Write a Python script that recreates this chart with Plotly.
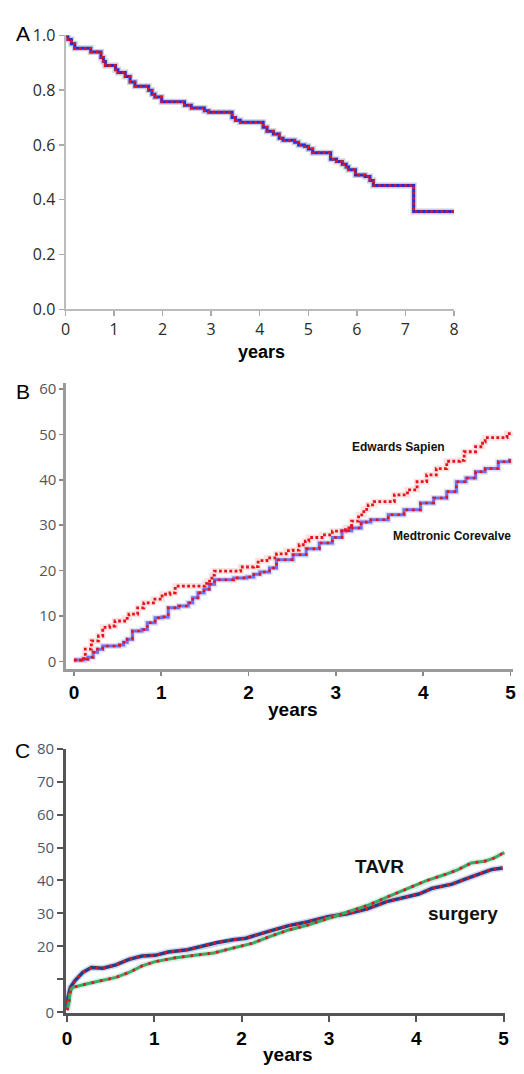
import plotly.graph_objects as go

W, H = 524, 1074

# ---------------- Panel A data (survival, step curve) ----------------
a_years = [0, 0.05, 0.12, 0.19, 0.52, 0.73, 0.78, 0.82, 1.03, 1.08, 1.23, 1.33, 1.43, 1.71, 1.78,
           1.84, 1.98, 2.45, 2.59, 2.86, 2.95, 3.43, 3.5, 3.6, 4.07, 4.15, 4.28, 4.40, 4.48, 4.72,
           4.8, 4.92, 5.0, 5.09, 5.46, 5.58, 5.70, 5.78, 5.83, 5.97, 6.17, 6.27, 6.34, 7.17, 8.0]
a_surv = [1.0, 0.985, 0.97, 0.953, 0.94, 0.92, 0.905, 0.89, 0.875, 0.865, 0.85, 0.83, 0.815, 0.80, 0.785,
          0.775, 0.758, 0.745, 0.735, 0.725, 0.72, 0.70, 0.69, 0.683, 0.665, 0.65, 0.64, 0.625, 0.617, 0.61,
          0.60, 0.595, 0.585, 0.572, 0.548, 0.54, 0.53, 0.52, 0.51, 0.49, 0.485, 0.47, 0.452, 0.357, 0.357]
a_xticks = [0, 1, 2, 3, 4, 5, 6, 7, 8]
a_yticks = [0.0, 0.2, 0.4, 0.6, 0.8, 1.0]
a_yticktext = ["0.0", "0.2", "0.4", "0.6", "0.8", "1.0"]

# ---------------- Panel B data (cumulative incidence, step) ----------------
b_edw_t = [0.0, 0.11, 0.13, 0.20, 0.28, 0.33, 0.41, 0.47, 0.58, 0.63, 0.73, 0.80, 0.91, 1.01, 1.10, 1.16,
           1.50, 1.53, 1.58, 1.61, 1.91, 2.06, 2.11, 2.21, 2.32, 2.43, 2.51, 2.58, 2.65, 2.69, 2.84, 2.96,
           3.11, 3.18, 3.26, 3.32, 3.37, 3.44, 3.67, 3.82, 3.93, 4.04, 4.15, 4.27, 4.42, 4.47, 4.60, 4.68,
           4.71, 4.96, 5.02]
b_edw_v = [0.3, 0.6, 2.7, 4.5, 5.6, 7.5, 7.8, 8.9, 9.5, 10.4, 11.8, 12.9, 13.7, 14.8, 15.1, 16.6,
           17.2, 17.7, 19.0, 19.9, 20.8, 20.9, 22.2, 22.8, 23.7, 24.4, 24.5, 25.7, 26.5, 27.3, 27.9, 28.7,
           29.4, 30.9, 32.3, 33.5, 34.5, 35.2, 36.7, 37.8, 39.6, 41.1, 42.5, 44.1, 44.3, 46.2, 47.3, 48.4,
           49.3, 50.2, 50.4]
b_med_t = [0.0, 0.11, 0.16, 0.22, 0.27, 0.33, 0.52, 0.57, 0.61, 0.67, 0.78, 0.84, 0.93, 1.01, 1.08, 1.20,
           1.31, 1.36, 1.42, 1.49, 1.55, 1.61, 1.83, 1.98, 2.06, 2.13, 2.24, 2.32, 2.43, 2.51, 2.66, 2.81,
           2.96, 3.07, 3.18, 3.29, 3.40, 3.60, 3.78, 3.97, 4.12, 4.27, 4.38, 4.49, 4.60, 4.71, 4.86, 4.99]
b_med_v = [0.3, 0.5, 0.9, 2.0, 2.7, 3.4, 3.6, 4.2, 4.9, 6.7, 7.0, 8.5, 9.6, 9.8, 11.8, 12.2,
           12.9, 14.0, 15.1, 15.9, 17.0, 18.0, 18.4, 18.6, 19.2, 19.7, 20.6, 22.4, 22.4, 23.5, 24.8, 26.1,
           27.3, 28.8, 29.4, 30.7, 31.2, 32.3, 33.4, 34.9, 36.0, 37.4, 39.6, 40.4, 41.8, 42.5, 44.0, 44.7]
b_xticks = [0, 1, 2, 3, 4, 5]
b_yticks = [0, 10, 20, 30, 40, 50, 60]

# ---------------- Panel C data (cumulative incidence) ----------------
c_sur_t = [0, 0.005, 0.01, 0.04, 0.09, 0.18, 0.28, 0.41, 0.56, 0.71, 0.86, 1.01, 1.16, 1.38, 1.53, 1.72,
           1.90, 2.05, 2.30, 2.54, 2.76, 2.99, 3.21, 3.44, 3.66, 3.89, 4.03, 4.18, 4.41, 4.56, 4.71, 4.86, 4.99]
c_sur_v = [0.7, 2.5, 4.6, 7.6, 9.6, 12.1, 13.6, 13.4, 14.4, 16.1, 17.1, 17.3, 18.3, 19.0, 20.0, 21.2,
           22.0, 22.5, 24.5, 26.3, 27.5, 29.0, 29.9, 31.4, 33.6, 34.9, 35.9, 37.6, 38.9, 40.4, 41.8, 43.3, 43.8]
c_tav_t = [0, 0.02, 0.04, 0.07, 0.22, 0.41, 0.56, 0.71, 0.86, 1.01, 1.23, 1.46, 1.68, 1.90, 2.13, 2.32,
           2.54, 2.76, 2.99, 3.21, 3.44, 3.66, 3.89, 4.11, 4.33, 4.48, 4.63, 4.78, 4.89, 5.01]
c_tav_v = [0.7, 2.7, 6.6, 7.6, 8.6, 9.6, 10.6, 12.1, 14.1, 15.4, 16.5, 17.3, 18.0, 19.5, 21.0, 23.0,
           25.0, 26.5, 28.5, 30.4, 32.4, 34.9, 37.4, 39.9, 41.8, 43.3, 45.3, 45.8, 46.8, 48.5]
c_xticks = [0, 1, 2, 3, 4, 5]
c_yticks = [0, 10, 20, 30, 40, 50, 60, 70, 80]
c_yticktext = ["0", "", "20", "30", "40", "50", "60", "70", "80"]


def px_x(p):
    return p / W


def px_y(p):
    return 1 - p / H


fig = go.Figure()

RED = "#e8121b"

# Panel A
fig.add_trace(go.Scatter(x=a_years, y=a_surv, mode="lines", line=dict(color="rgba(160,165,190,0.55)", width=6, shape="hv"),
                         xaxis="x", yaxis="y", hoverinfo="skip"))
fig.add_trace(go.Scatter(x=a_years, y=a_surv, mode="lines", line=dict(color="#1f2fe0", width=3, shape="hv"),
                         xaxis="x", yaxis="y", hoverinfo="skip"))
fig.add_trace(go.Scatter(x=a_years, y=a_surv, mode="lines", line=dict(color=RED, width=2.6, shape="hv", dash="2.6px,2.6px"),
                         xaxis="x", yaxis="y", hoverinfo="skip"))

# Panel B
fig.add_trace(go.Scatter(x=b_med_t, y=b_med_v, mode="lines", line=dict(color="rgba(190,195,230,0.5)", width=6, shape="hv"),
                         xaxis="x2", yaxis="y2", hoverinfo="skip"))
fig.add_trace(go.Scatter(x=b_edw_t, y=b_edw_v, mode="lines", line=dict(color="rgba(240,190,190,0.45)", width=6, shape="hv"),
                         xaxis="x2", yaxis="y2", hoverinfo="skip"))
fig.add_trace(go.Scatter(x=b_med_t, y=b_med_v, mode="lines", line=dict(color="#6f6ff2", width=3, shape="hv"),
                         xaxis="x2", yaxis="y2", hoverinfo="skip"))
fig.add_trace(go.Scatter(x=b_med_t, y=b_med_v, mode="lines", line=dict(color=RED, width=2.6, shape="hv", dash="2.6px,4px"),
                         xaxis="x2", yaxis="y2", hoverinfo="skip"))
fig.add_trace(go.Scatter(x=b_edw_t, y=b_edw_v, mode="lines", line=dict(color=RED, width=2.8, shape="hv", dash="2.8px,2.4px"),
                         xaxis="x2", yaxis="y2", hoverinfo="skip"))

# Panel C
fig.add_trace(go.Scatter(x=c_sur_t, y=c_sur_v, mode="lines", line=dict(color="rgba(170,180,215,0.55)", width=6.5),
                         xaxis="x3", yaxis="y3", hoverinfo="skip"))
fig.add_trace(go.Scatter(x=c_tav_t, y=c_tav_v, mode="lines", line=dict(color="rgba(180,220,195,0.5)", width=6),
                         xaxis="x3", yaxis="y3", hoverinfo="skip"))
fig.add_trace(go.Scatter(x=c_sur_t, y=c_sur_v, mode="lines", line=dict(color="#1e3f8a", width=3.5),
                         xaxis="x3", yaxis="y3", hoverinfo="skip"))
fig.add_trace(go.Scatter(x=c_sur_t, y=c_sur_v, mode="lines", line=dict(color=RED, width=2.8, dash="2.6px,4.5px"),
                         xaxis="x3", yaxis="y3", hoverinfo="skip"))
fig.add_trace(go.Scatter(x=c_tav_t, y=c_tav_v, mode="lines", line=dict(color="#3aa866", width=3),
                         xaxis="x3", yaxis="y3", hoverinfo="skip"))
fig.add_trace(go.Scatter(x=c_tav_t, y=c_tav_v, mode="lines", line=dict(color=RED, width=2.8, dash="2.6px,6px"),
                         xaxis="x3", yaxis="y3", hoverinfo="skip"))

tick_font_a = dict(family="Open Sans", size=16, color="#2a2a2a")
bold_big = dict(family="Liberation Sans", size=19, color="black", weight="bold")

layout = dict(
    width=W, height=H,
    margin=dict(l=0, r=0, t=0, b=0),
    paper_bgcolor="white", plot_bgcolor="white",
    showlegend=False,
    hovermode=False,
    # Panel A
    xaxis=dict(domain=[px_x(61.7), px_x(457.7)], range=[0, 8], anchor="y",
               tickvals=a_xticks, ticks="outside", ticklen=5, tickcolor="#aaaaaa", tickwidth=1.5,
               showline=True, linecolor="#bbbbbb", linewidth=2, showgrid=False, zeroline=False,
               tickfont=tick_font_a),
    yaxis=dict(domain=[px_y(304.5), px_y(25)], range=[0, 1.0], anchor="x",
               tickvals=a_yticks, ticktext=a_yticktext, ticks="outside", ticklen=5, tickcolor="#aaaaaa", tickwidth=1.5,
               showline=True, linecolor="#bbbbbb", linewidth=2, showgrid=False, zeroline=False,
               tickfont=tick_font_a),
    # Panel B
    xaxis2=dict(domain=[px_x(62), px_x(518)], range=[-0.093, 5.03], anchor="y2",
                tickvals=b_xticks, ticks="outside", ticklen=4, tickcolor="#888888", tickwidth=1.5,
                showline=True, linecolor="#9a9a9a", linewidth=2.5, showgrid=False, zeroline=False,
                tickfont=bold_big),
    yaxis2=dict(domain=[px_y(672), px_y(380)], range=[-1.73, 61.3], anchor="x2",
                tickvals=b_yticks, ticks="outside", ticklen=4, tickcolor="#888888", tickwidth=1.5,
                showline=True, linecolor="#9a9a9a", linewidth=2.5, showgrid=False, zeroline=False,
                tickfont=dict(family="Open Sans", size=15, color="#555555")),
    # Panel C
    xaxis3=dict(domain=[px_x(62.3), px_x(510)], range=[-0.01, 5.02], anchor="y3",
                tickvals=c_xticks, ticks="outside", ticklen=6, tickcolor="#555555", tickwidth=2,
                showline=True, linecolor="#555555", linewidth=3, showgrid=False, zeroline=False,
                tickfont=bold_big),
    yaxis3=dict(domain=[px_y(1023), px_y(753)], range=[-0.2, 80], anchor="x3",
                tickvals=c_yticks, ticktext=c_yticktext, ticks="outside", ticklen=6, tickcolor="#555555", tickwidth=2,
                showline=True, linecolor="#555555", linewidth=3, showgrid=False, zeroline=False,
                tickfont=dict(family="Open Sans", size=15, color="#4a5870")),
)
fig.update_layout(**layout)

ann = []


def add_text(x, y, text, size, bold=False, family="Liberation Sans", color="black"):
    f = dict(family=family, size=size, color=color)
    if bold:
        f["weight"] = "bold"
    ann.append(dict(x=px_x(x), y=px_y(y), xref="paper", yref="paper", text=text, showarrow=False,
                    xanchor="center", yanchor="middle", font=f))


add_text(18.5, 22.5, "A", 21)
add_text(18, 388, "B", 21)
add_text(17.5, 755, "C", 21)
add_text(261, 348, "years", 18, bold=True)
add_text(294, 713, "years", 19, bold=True)
add_text(288, 1065, "years", 19, bold=True)

for a in ann:
    fig.add_annotation(**a)

# Series labels placed in data coordinates
fig.add_annotation(x=3.72, y=47.2, xref="x2", yref="y2", text="Edwards Sapien", showarrow=False,
                   font=dict(family="Liberation Sans", size=12, color="#111111", weight="bold"))
fig.add_annotation(x=4.33, y=27.6, xref="x2", yref="y2", text="Medtronic Corevalve", showarrow=False,
                   font=dict(family="Liberation Sans", size=12, color="#111111", weight="bold"))
fig.add_annotation(x=3.58, y=44.2, xref="x3", yref="y3", text="TAVR", showarrow=False,
                   font=dict(family="Liberation Sans", size=19, color="#111111", weight="bold"))
fig.add_annotation(x=4.54, y=29.9, xref="x3", yref="y3", text="surgery", showarrow=False,
                   font=dict(family="Liberation Sans", size=19, color="#111111", weight="bold"))

fig.write_html("out.html",
               config={"displayModeBar": False, "staticPlot": True},
               post_script="document.body.style.margin='0';document.body.style.overflow='hidden';")
